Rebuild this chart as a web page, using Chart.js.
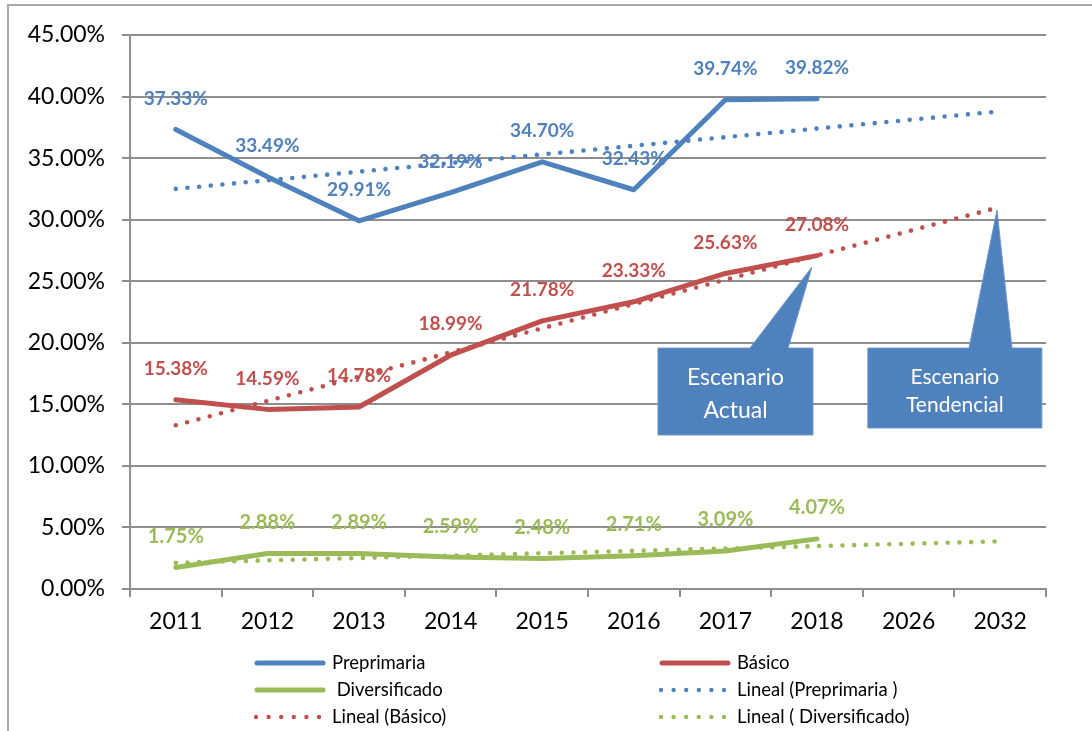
<!DOCTYPE html>
<html>
<head>
<meta charset="utf-8">
<script src="https://cdn.jsdelivr.net/npm/chart.js@4/dist/chart.umd.min.js"></script>
<style>
  html, body { margin: 0; padding: 0; background: #fff; overflow: hidden; }
  #wrap { position: relative; width: 1092px; height: 731px; }
  #frame { position: absolute; left: 7px; top: 4px; width: 1200px; height: 900px; border: 2px solid #a9a9a9; box-sizing: border-box; }
  canvas { position: absolute; left: 0; top: 0; }
</style>
</head>
<body>
<div id="wrap">
  <div id="frame"></div>
  <canvas id="c" width="1092" height="731"></canvas>
</div>
<script>
// ---- Data ----
const categories = ['2011', '2012', '2013', '2014', '2015', '2016', '2017', '2018', '2026', '2032'];
const preprimaria   = [37.33, 33.49, 29.91, 32.19, 34.70, 32.43, 39.74, 39.82, null, null];
const basico        = [15.38, 14.59, 14.78, 18.99, 21.78, 23.33, 25.63, 27.08, null, null];
const diversificado = [1.75, 2.88, 2.89, 2.59, 2.48, 2.71, 3.09, 4.07, null, null];
// Trend lines (straight): start (2011) and end (2032) values
const linealPreprimaria   = [32.50, null, null, null, null, null, null, null, null, 38.80];
const linealBasico        = [13.30, null, null, null, null, null, null, null, null, 31.03];
const linealDiversificado = [2.13, null, null, null, null, null, null, null, null, 3.87];
const seriesNames = ['Preprimaria', 'Básico', 'Diversificado', 'Lineal (Preprimaria )', 'Lineal (Básico)', 'Lineal ( Diversificado)'];
const calloutTexts = [['Escenario', 'Actual'], ['Escenario', 'Tendencial']];

const BLUE = '#4F81BD', RED = '#C0504D', GREEN = '#9BBB59';
const FONT = 'Lato, "Open Sans", sans-serif';

function solid(label, data, color) {
  return { label, data, borderColor: color, backgroundColor: color, borderWidth: 5,
    pointRadius: 0, tension: 0, borderJoinStyle: 'round', borderCapStyle: 'round', order: 1, fill: false };
}
function dotted(label, data, color) {
  return { label, data, borderColor: color, backgroundColor: color, borderWidth: 4.6,
    borderDash: [0, 11.7], borderCapStyle: 'round', pointRadius: 0, tension: 0,
    spanGaps: true, order: 0, fill: false };
}

let labelsDrawn = false;
const labelPlugin = {
  id: 'labels',
  beforeDraw() { labelsDrawn = false; },
  beforeDatasetDraw(chart, args) {
    if (labelsDrawn) return;
    if (chart.data.datasets[args.index].order === 0) drawLabels(chart);
  },
  afterDatasetsDraw(chart) { if (!labelsDrawn) drawLabels(chart); }
};
function drawLabels(chart) {
  labelsDrawn = true;
  const ctx = chart.ctx;
  const specs = [[0, BLUE, 'bold 19px ' + FONT], [1, RED, 'bold 19px ' + FONT], [2, GREEN, 'bold 20px ' + FONT]];
  ctx.save();
  ctx.textAlign = 'center';
  ctx.textBaseline = 'middle';
  specs.forEach(([di, color, font]) => {
    const meta = chart.getDatasetMeta(di);
    const data = chart.data.datasets[di].data;
    ctx.fillStyle = color;
    ctx.font = font;
    meta.data.forEach((pt, i) => {
      if (data[i] == null) return;
      ctx.fillText(data[i].toFixed(2) + '%', pt.x, pt.y - 31);
    });
  });
  ctx.restore();
}

const calloutPlugin = {
  id: 'callouts',
  afterDraw(chart) {
    const ctx = chart.ctx, xs = chart.scales.x, ys = chart.scales.y;
    const X = v => xs.getPixelForValue(v), Y = v => ys.getPixelForValue(v);
    const boxes = [
      { x0: 5.264, x1: 6.956, yT: 19.57, yB: 12.51, b0: 6.269, b1: 6.684, tx: 6.945, ty: 26.16, font: '23px ' + FONT, lines: calloutTexts[0], dy: [30, 63] },
      { x0: 7.555, x1: 9.455, yT: 19.57, yB: 13.08, b0: 8.659, b1: 9.129, tx: 8.965, ty: 30.78, font: '21px ' + FONT, lines: calloutTexts[1], dy: [29, 57] }
    ];
    ctx.save();
    boxes.forEach(b => {
      const l = X(b.x0), r = X(b.x1), t = Y(b.yT), bt = Y(b.yB);
      ctx.beginPath();
      ctx.moveTo(l, t);
      ctx.lineTo(X(b.b0), t);
      ctx.lineTo(X(b.tx), Y(b.ty));
      ctx.lineTo(X(b.b1), t);
      ctx.lineTo(r, t);
      ctx.lineTo(r, bt);
      ctx.lineTo(l, bt);
      ctx.closePath();
      ctx.fillStyle = BLUE;
      ctx.fill();
      ctx.strokeStyle = '#6f97c9';
      ctx.lineWidth = 1;
      ctx.stroke();
      ctx.fillStyle = '#ffffff';
      ctx.font = b.font;
      ctx.textAlign = 'center';
      ctx.textBaseline = 'middle';
      const cx = (l + r) / 2;
      ctx.fillText(b.lines[0], cx, t + b.dy[0]);
      ctx.fillText(b.lines[1], cx, t + b.dy[1]);
    });
    ctx.restore();
  }
};

const legendPlugin = {
  id: 'customLegend',
  afterDraw(chart) {
    const ctx = chart.ctx;
    const items = [
      [0, 0, 0], [1, 1, 0],
      [2, 0, 1], [3, 1, 1],
      [4, 0, 2], [5, 1, 2]
    ];
    const cols = [{ l0: 255, l1: 325, tx: 332 }, { l0: 660, l1: 730, tx: 737 }];
    const rows = [663, 690, 717];
    ctx.save();
    items.forEach(([di, c, r]) => {
      const ds = chart.data.datasets[di];
      const col = cols[c], y = rows[r];
      ctx.beginPath();
      ctx.strokeStyle = ds.borderColor;
      ctx.lineCap = 'round';
      if (ds.borderDash) {
        ctx.lineWidth = 4.4;
        ctx.setLineDash([0, 12.6]);
        ctx.moveTo(col.l0 + 1, y);
        ctx.lineTo(col.l0 + 64.5, y);
      } else {
        ctx.lineWidth = 5;
        ctx.setLineDash([]);
        ctx.moveTo(col.l0 + 2, y);
        ctx.lineTo(col.l1 - 2, y);
      }
      ctx.stroke();
      ctx.setLineDash([]);
      ctx.fillStyle = '#000';
      ctx.font = '18.5px ' + FONT;
      ctx.textAlign = 'left';
      ctx.textBaseline = 'middle';
      const txt = ds.label === 'Diversificado' ? ' Diversificado' : ds.label;
      ctx.fillText(txt, col.tx, y);
    });
    ctx.restore();
  }
};

new Chart(document.getElementById('c'), {
  type: 'line',
  data: {
    labels: categories,
    datasets: [
      solid(seriesNames[0], preprimaria, BLUE),
      solid(seriesNames[1], basico, RED),
      solid(seriesNames[2], diversificado, GREEN),
      dotted(seriesNames[3], linealPreprimaria, BLUE),
      dotted(seriesNames[4], linealBasico, RED),
      dotted(seriesNames[5], linealDiversificado, GREEN)
    ]
  },
  options: {
    responsive: false,
    animation: false,
    devicePixelRatio: 1,
    layout: { padding: { top: 35, right: 46, bottom: 0, left: 0 } },
    plugins: { legend: { display: false }, tooltip: { enabled: false } },
    scales: {
      x: {
        type: 'category',
        offset: true,
        grid: { offset: true, drawOnChartArea: false, drawTicks: true, tickLength: 8, color: '#8e8e8e', lineWidth: 2 },
        border: { color: '#8e8e8e', width: 2 },
        ticks: { color: '#000', font: { family: FONT, size: 23 }, padding: 11, maxRotation: 0, autoSkip: false },
        afterFit(s) { s.height = 142; }
      },
      y: {
        min: 0, max: 45,
        grid: { color: '#8e8e8e', lineWidth: 2, tickLength: 8 },
        border: { color: '#8e8e8e', width: 2 },
        ticks: { stepSize: 5, color: '#000', font: { family: FONT, size: 23 }, padding: 17,
          callback: v => v.toFixed(2) + '%' },
        afterFit(s) { s.width = 130; }
      }
    }
  },
  plugins: [labelPlugin, calloutPlugin, legendPlugin]
});
</script>
</body>
</html>
